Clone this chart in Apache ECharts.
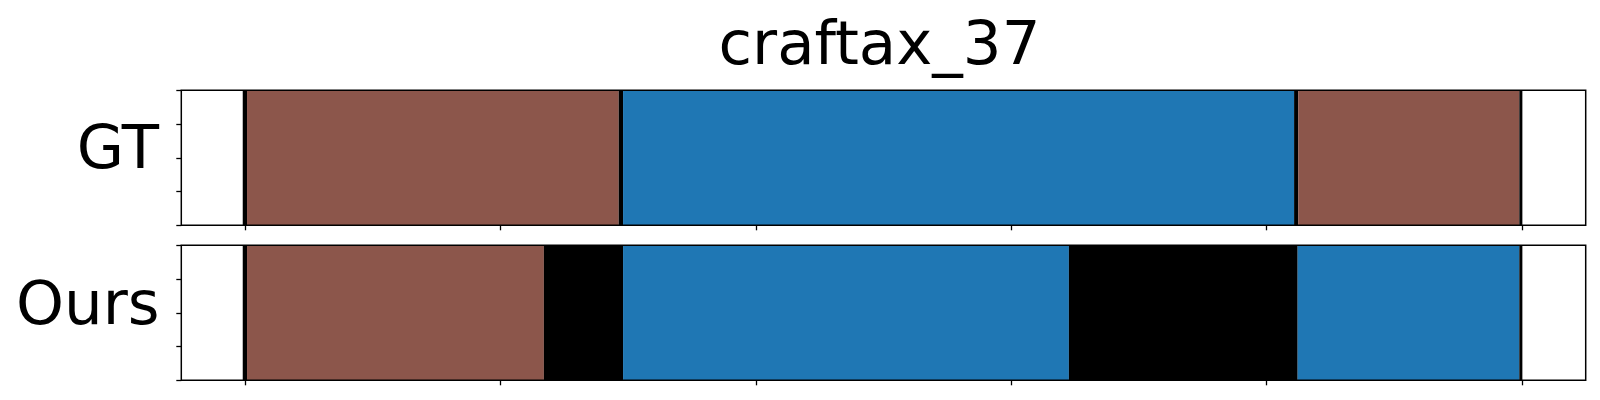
<!DOCTYPE html>
<html>
<head>
<meta charset="utf-8">
<script src="https://cdn.jsdelivr.net/npm/echarts@6/dist/echarts.min.js"></script>
<style>
html,body{margin:0;padding:0;background:#fff;}
#chart{width:1600px;height:400px;}
</style>
</head>
<body>
<div id="chart"></div>
<script>
const titleText = 'craftax_37';
const rowNames = ['GT', 'Ours'];
const xTicks = [0, 50, 100, 150, 200, 250];
const classColors = { brown: '#8c564b', blue: '#1f77b4', black: '#000000' };

// GT segments (start, end, class)
const gtStarts = [-0.47, 0.37, 73.15, 74.0, 205.4, 206.2, 249.5];
const gtEnds   = [0.37, 73.15, 74.0, 205.4, 206.2, 249.5, 250.1];
const gtClass  = ['black', 'brown', 'black', 'blue', 'black', 'brown', 'black'];

// Ours segments
const oursStarts = [-0.47, 0.37, 58.5, 74.0, 161.3, 206.1, 249.5];
const oursEnds   = [0.37, 58.5, 74.0, 161.3, 206.1, 249.5, 250.1];
const oursClass  = ['black', 'brown', 'black', 'blue', 'black', 'blue', 'black'];

function buildData(starts, ends, cls) {
  return starts.map((s, i) => ({ value: [s, ends[i]], itemStyle: { color: classColors[cls[i]] } }));
}

function renderSeg(params, api) {
  const s = api.value(0), e = api.value(1);
  const p0 = api.coord([s, 1]);
  const p1 = api.coord([e, 0]);
  return {
    type: 'rect',
    shape: { x: p0[0], y: p0[1], width: p1[0] - p0[0], height: p1[1] - p0[1] },
    style: { fill: api.visual('color') }
  };
}

const gridLeft = 181.3, gridWidth = 1404.4;
const grids = [
  { left: gridLeft, top: 90.3, width: gridWidth, height: 135, show: true, borderColor: '#000', borderWidth: 1.5, backgroundColor: 'transparent', z: 10 },
  { left: gridLeft, top: 245.3, width: gridWidth, height: 135, show: true, borderColor: '#000', borderWidth: 1.5, backgroundColor: 'transparent', z: 10 }
];

function xAx(gi) {
  return {
    type: 'value', gridIndex: gi, min: -12.5, max: 262.5, position: 'bottom',
    splitLine: { show: false },
    axisLine: { show: false, onZero: false },
    axisLabel: { show: false },
    axisTick: { show: true, inside: false, length: 5, customValues: xTicks, lineStyle: { color: '#000', width: 1.3 } }
  };
}
function yAx(gi) {
  return {
    type: 'value', gridIndex: gi, min: 0, max: 1, interval: 0.25, position: 'left',
    splitLine: { show: false },
    axisLine: { show: false, onZero: false },
    axisLabel: { show: false },
    axisTick: { show: true, inside: false, length: 5, lineStyle: { color: '#000', width: 1.3 } }
  };
}

const chart = echarts.init(document.getElementById('chart'), null, { renderer: 'canvas' });
const font = '"DejaVu Sans", sans-serif';
chart.setOption({
  animation: false,
  backgroundColor: '#fff',
  grid: grids,
  xAxis: [xAx(0), xAx(1)],
  yAxis: [yAx(0), yAx(1)],
  series: [
    { type: 'custom', xAxisIndex: 0, yAxisIndex: 0, renderItem: renderSeg, encode: { x: [0, 1] }, data: buildData(gtStarts, gtEnds, gtClass), clip: true },
    { type: 'custom', xAxisIndex: 1, yAxisIndex: 1, renderItem: renderSeg, encode: { x: [0, 1] }, data: buildData(oursStarts, oursEnds, oursClass), clip: true }
  ],
  graphic: [
    { type: 'text', x: gridLeft + gridWidth / 2 - 4, y: 48.5, style: { text: titleText, font: '61px ' + font, fill: '#000', textAlign: 'center', textVerticalAlign: 'middle' } },
    { type: 'text', x: 159, y: 152, style: { text: rowNames[0], font: '61px ' + font, fill: '#000', textAlign: 'right', textVerticalAlign: 'middle' } },
    { type: 'text', x: 159.5, y: 308.5, style: { text: rowNames[1], font: '61px ' + font, fill: '#000', textAlign: 'right', textVerticalAlign: 'middle' } }
  ]
});
</script>
</body>
</html>
